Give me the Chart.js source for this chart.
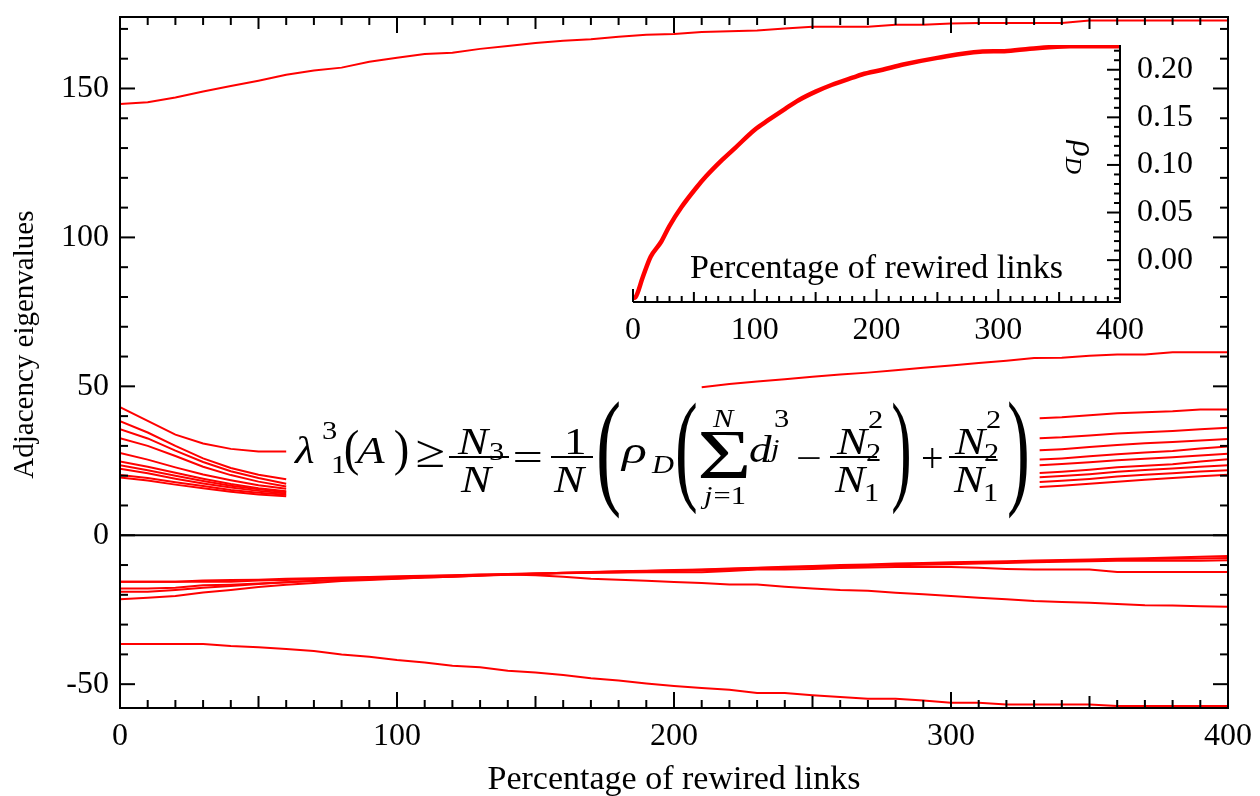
<!DOCTYPE html>
<html>
<head>
<meta charset="utf-8">
<script src="https://cdn.jsdelivr.net/npm/chart.js@4.4.1/dist/chart.umd.min.js"></script>
<style>
  html, body { margin: 0; padding: 0; background: #fff; }
  #wrap { position: relative; width: 1260px; height: 796px; }
  #mainBox { position: absolute; left: 0; top: 0; width: 1260px; height: 796px; }
  #insetBox { position: absolute; left: 600px; top: 20px; width: 640px; height: 340px; }
</style>
</head>
<body>
<div id="wrap">
  <div id="mainBox"><canvas id="mainChart"></canvas></div>
  <div id="insetBox"><canvas id="insetChart"></canvas></div>
</div>
<script>
// ---------- data: eigenvalues vs percentage of rewired links ----------
const pctFull = [0,10,20,30,40,50,60,70,80,90,100,110,120,130,140,150,160,170,180,190,200,
                 210,220,230,240,250,260,270,280,290,300,310,320,330,340,350,360,370,380,390,400];

const lambdaTop = [144.8,145.4,147.0,149.0,150.8,152.6,154.6,156.0,157.0,159.0,
                   160.3,161.6,162.0,163.3,164.3,165.3,166.0,166.5,167.4,168.0,
                   168.3,169.0,169.2,169.5,170.1,170.7,170.7,170.7,171.4,171.4,
                   171.8,172.0,172.0,172.0,172.0,172.8,172.8,172.8,172.8,172.8,172.8];

const lambdaMin = [-36.5,-36.5,-36.5,-36.5,-37.2,-37.6,-38.2,-38.9,-40.0,-40.8,
                   -41.9,-42.7,-43.8,-44.3,-45.5,-46.1,-46.9,-48.0,-48.8,-49.8,
                   -50.6,-51.3,-51.9,-53.0,-53.0,-53.7,-54.3,-54.9,-54.9,-55.5,
                   -56.2,-56.2,-56.8,-56.8,-56.8,-56.8,-57.3,-57.3,-57.3,-57.3,-57.3];

const negA = [-15.6,-15.6,-15.6,-15.2,-15.0,-14.9,-14.6,-14.4,-14.2,-14.0,
              -13.8,-13.6,-13.4,-13.2,-13.2,-13.4,-13.9,-14.6,-14.9,-15.3,
              -15.7,-16.0,-16.5,-16.5,-17.3,-17.9,-18.4,-18.6,-19.3,-19.8,
              -20.4,-21.0,-21.5,-22.1,-22.4,-22.7,-23.1,-23.5,-23.6,-23.8,-24.0];
const negB = [-15.6,-15.6,-15.6,-15.6,-15.6,-15.2,-15.0,-14.7,-14.5,-14.2,
              -14.0,-13.8,-13.5,-13.3,-13.0,-12.8,-12.7,-12.6,-12.5,-12.4,
              -12.4,-12.4,-12.0,-11.5,-11.5,-11.3,-11.0,-10.8,-10.7,-10.7,
              -10.7,-10.9,-11.3,-11.5,-11.5,-11.5,-12.3,-12.3,-12.3,-12.3,-12.3];
const negC = [-17.9,-17.9,-17.6,-16.8,-16.6,-16.2,-15.8,-15.4,-15.0,-14.8,
              -14.5,-14.2,-13.9,-13.6,-13.3,-13.1,-12.8,-12.6,-12.4,-12.2,
              -12.0,-11.8,-11.6,-11.3,-11.0,-10.8,-10.6,-10.3,-10.1,-9.9,
              -9.7,-9.5,-9.3,-9.1,-8.9,-8.7,-8.6,-8.6,-8.6,-8.6,-8.4];
const negD = [-19.0,-19.0,-18.4,-17.6,-17.0,-16.4,-15.8,-15.3,-15.0,-14.7,
              -14.4,-14.0,-13.7,-13.4,-13.1,-12.9,-12.6,-12.4,-12.2,-12.0,
              -11.8,-11.6,-11.3,-11.0,-10.8,-10.5,-10.3,-10.0,-9.8,-9.6,
              -9.4,-9.2,-9.0,-8.8,-8.6,-8.4,-8.2,-8.0,-7.9,-7.8,-7.6];
const negE = [-21.5,-21.0,-20.4,-19.2,-18.4,-17.4,-16.6,-16.0,-15.4,-15.0,
              -14.6,-14.2,-13.9,-13.5,-13.2,-12.9,-12.6,-12.3,-12.1,-11.9,
              -11.7,-11.5,-11.2,-10.9,-10.6,-10.3,-10.0,-9.8,-9.5,-9.3,
              -9.1,-8.9,-8.7,-8.5,-8.3,-8.1,-7.9,-7.7,-7.5,-7.2,-7.0];

// second eigenvalue, visible above the formula
const pctSecond = [210,220,230,240,250,260,270,280,290,300,310,320,330,340,350,360,370,380,390,400];
const lambdaSecond = [49.7,50.8,51.6,52.4,53.2,54.0,54.6,55.4,56.2,57.0,
                      57.8,58.6,59.5,59.6,60.3,60.7,60.7,61.4,61.4,61.4];

// bulk eigenvalues, visible left and right of the formula
const pctLeft = [0,10,20,30,40,50,60];
const left1  = [43.0,38.4,33.8,30.8,29.0,28.1,28.1];
const left2  = [38.3,34.5,30.0,25.8,22.6,20.3,18.8];
const left3  = [35.6,32.5,28.4,24.6,21.5,19.2,17.3];
const left4  = [32.6,30.0,26.6,23.0,20.2,18.0,16.4];
const left5  = [27.6,25.4,22.8,20.4,18.5,16.8,15.6];
const left6  = [24.8,23.0,21.0,19.0,17.2,15.8,14.8];
const left7  = [23.5,21.8,20.0,18.2,16.6,15.4,14.4];
const left8  = [22.3,20.8,19.0,17.4,16.0,14.9,14.0];
const left9  = [20.2,19.2,17.8,16.5,15.2,14.3,13.6];
const left10 = [19.4,18.4,17.0,15.8,14.6,13.7,13.1];

const pctRight = [332,340,350,360,370,380,390,400];
const right1 = [39.3,39.6,40.3,41.0,41.3,41.6,42.2,42.2];
const right2 = [32.6,32.9,33.5,34.2,34.6,35.0,35.6,36.1];
const right3 = [28.5,28.9,29.6,30.3,30.9,31.3,31.8,32.3];
const right4 = [25.4,25.8,26.5,27.2,27.8,28.3,29.1,29.8];
const right5 = [23.5,23.9,24.5,25.2,25.7,26.2,26.8,27.4];
const right6 = [20.9,21.3,22.0,22.8,23.3,23.8,24.8,25.5];
const right7 = [19.5,19.9,20.5,21.3,21.9,22.4,23.0,23.5];
const right8 = [17.9,18.3,18.9,19.7,20.3,20.8,21.4,21.8];
const right9 = [16.2,16.6,17.3,18.0,18.6,19.2,19.8,20.3];

const xTickValues = [0,100,200,300,400];
const yTickValues = [-50,0,50,100,150];

// inset: degree-degree correlation rho_D
const insetPct = [0,2,8,14.5,23,30,40,52,60,73,84,100,111,125,136,150,163,181,188,205,222,250,285,305,326,359,400];
const rhoD = [-0.040,-0.039,-0.018,0.0035,0.019,0.036,0.056,0.076,0.088,0.105,0.118,0.137,0.147,
              0.159,0.168,0.177,0.184,0.192,0.195,0.200,0.2055,0.2125,0.219,0.2195,0.222,0.2247,0.2247];
const insetXTicks = [0,100,200,300,400];
const insetYTicks = [0,0.05,0.10,0.15,0.20];

// ---------- helpers ----------
const SERIF = '"Liberation Serif", "Times New Roman", serif';
const RED = '#ff0000';
const EQ_SX = 1.22;   // horizontal stretch of the formula glyphs

function pairs(xs, ys) { return xs.map((x, i) => ({ x: x, y: ys[i] })); }
function line(xs, ys, w, smooth) {
  return { data: pairs(xs, ys), borderColor: RED, borderWidth: w || 2, pointRadius: 0, fill: false,
           tension: smooth ? 0.4 : 0, cubicInterpolationMode: smooth ? 'monotone' : 'default' };
}
function seg(ctx, x1, y1, x2, y2) { ctx.beginPath(); ctx.moveTo(x1, y1); ctx.lineTo(x2, y2); ctx.stroke(); }
function txt(ctx, s, x, y, size, italic, sx) {
  const k = sx || EQ_SX;
  ctx.save();
  ctx.font = (italic ? 'italic ' : '') + size + 'px ' + SERIF;
  ctx.translate(x, y);
  ctx.scale(k, 1);
  ctx.fillText(s, 0, 0);
  const w = ctx.measureText(s).width * k;
  ctx.restore();
  return w;
}
// draw a glyph stretched into the box (l,t)-(r,b)
function fitGlyph(ctx, ch, size, l, t, r, b, italic) {
  ctx.save();
  ctx.font = (italic ? 'italic ' : '') + size + 'px ' + SERIF;
  const m = ctx.measureText(ch);
  const gw = m.actualBoundingBoxLeft + m.actualBoundingBoxRight;
  const gh = m.actualBoundingBoxAscent + m.actualBoundingBoxDescent;
  ctx.translate(l, t);
  ctx.scale((r - l) / gw, (b - t) / gh);
  ctx.fillText(ch, m.actualBoundingBoxLeft, m.actualBoundingBoxAscent);
  ctx.restore();
}
function fracBar(ctx, x1, x2, y) { ctx.fillRect(x1, y - 1, x2 - x1, 2); }

// lambda_1^3(A) >= N3/N = 1/N ( rho_D ( sum d_j^3 - N2^2/N1 ) + N2^2/N1 )
function drawFormula(ctx) {
  ctx.save();
  ctx.fillStyle = '#000';
  ctx.textBaseline = 'alphabetic';
  ctx.textAlign = 'left';
  txt(ctx, 'λ', 295, 463, 37, true);
  txt(ctx, '3', 322, 439, 25);
  txt(ctx, '1', 331, 473, 25);
  fitGlyph(ctx, '(', 36, 345, 428, 358, 476);
  txt(ctx, 'A', 357, 463, 37, true);
  fitGlyph(ctx, ')', 36, 395, 428, 408, 476);
  fitGlyph(ctx, '≥', 36, 417, 440, 444, 467);
  fracBar(ctx, 449, 509, 457);
  txt(ctx, 'N', 458, 454, 37, true);
  txt(ctx, '3', 489, 460, 25);
  txt(ctx, 'N', 461, 492, 37, true);
  fitGlyph(ctx, '=', 36, 514, 452, 541, 462);
  fracBar(ctx, 551, 593, 457);
  txt(ctx, '1', 564, 454, 37);
  txt(ctx, 'N', 554, 492, 37, true);
  fitGlyph(ctx, '(', 36, 598, 397, 619, 520);
  txt(ctx, 'ρ', 622, 463, 37, true, 1.4);
  txt(ctx, 'D', 652, 473, 25, true);
  fitGlyph(ctx, '(', 36, 677, 400, 696, 515);
  fitGlyph(ctx, 'Σ', 66, 700, 432, 748, 478);
  txt(ctx, 'N', 713, 427, 25, true);
  const wj = txt(ctx, 'j', 704, 504, 25, true);
  txt(ctx, '=1', 704 + wj + 1, 504, 25);
  txt(ctx, 'd', 749, 462, 37, true);
  txt(ctx, '3', 774, 427, 25);
  txt(ctx, 'j', 771, 457, 25, true);
  fitGlyph(ctx, '−', 36, 797, 457, 820, 459);
  fracBar(ctx, 830, 877, 457);
  txt(ctx, 'N', 837, 454, 37, true);
  txt(ctx, '2', 868, 428, 25);
  txt(ctx, '2', 866, 461, 25);
  txt(ctx, 'N', 835, 492, 37, true);
  txt(ctx, '1', 864, 501, 25);
  fitGlyph(ctx, ')', 36, 893, 400, 910, 515);
  fitGlyph(ctx, '+', 36, 922, 447, 942, 468);
  fracBar(ctx, 949, 996, 457);
  txt(ctx, 'N', 955, 454, 37, true);
  txt(ctx, '2', 986, 428, 25);
  txt(ctx, '2', 984, 461, 25);
  txt(ctx, 'N', 954, 492, 37, true);
  txt(ctx, '1', 983, 501, 25);
  fitGlyph(ctx, ')', 36, 1009, 397, 1028, 520);
  ctx.restore();
}

// frame, inward ticks, zero line, y title and the formula of the main panel
const mainDecor = {
  id: 'mainDecor',
  beforeDatasetsDraw(chart) {
    const { ctx, chartArea: a, scales: { y } } = chart;
    const y0 = y.getPixelForValue(0);
    ctx.save();
    ctx.strokeStyle = '#000';
    ctx.lineWidth = 2;
    seg(ctx, a.left, y0, a.right, y0);
    ctx.restore();
  },
  afterDraw(chart) {
    const { ctx, chartArea: a, scales: { x, y } } = chart;
    ctx.save();
    ctx.strokeStyle = '#000';
    ctx.lineWidth = 2;
    ctx.strokeRect(a.left, a.top, a.right - a.left, a.bottom - a.top);
    for (let v = 0; v <= 400; v += 10) {
      const px = x.getPixelForValue(v);
      const len = v % 100 === 0 ? 16 : (v % 50 === 0 ? 12 : 8);
      seg(ctx, px, a.bottom, px, a.bottom - len);
      seg(ctx, px, a.top, px, a.top + len);
    }
    for (let v = -50; v <= 170; v += 10) {
      const py = y.getPixelForValue(v);
      const len = v % 50 === 0 ? 15 : 8;
      seg(ctx, a.left, py, a.left + len, py);
      seg(ctx, a.right, py, a.right - len, py);
    }
    // y axis title
    ctx.fillStyle = '#000';
    ctx.translate(25, y.getPixelForValue(64));
    ctx.rotate(-Math.PI / 2);
    ctx.textAlign = 'center';
    ctx.textBaseline = 'middle';
    ctx.font = '29px ' + SERIF;
    ctx.fillText('Adjacency eigenvalues', 0, 0);
    ctx.restore();
    drawFormula(ctx);
  }
};

// axes, ticks and inner titles of the inset panel
const insetDecor = {
  id: 'insetDecor',
  afterDraw(chart) {
    const { ctx, chartArea: a, scales: { x, y } } = chart;
    ctx.save();
    ctx.strokeStyle = '#000';
    ctx.lineWidth = 2;
    seg(ctx, a.left, a.bottom, a.right + 1, a.bottom);
    seg(ctx, a.right, a.top, a.right, a.bottom + 1);
    for (let v = 0; v <= 400; v += 10) {
      const px = x.getPixelForValue(v);
      const len = v % 100 === 0 ? 13 : (v % 50 === 0 ? 10 : 6);
      seg(ctx, px, a.bottom, px, a.bottom - len);
    }
    for (let k = -4; k <= 22; k++) {
      const py = y.getPixelForValue(k / 100);
      const len = k % 5 === 0 ? 13 : 6;
      seg(ctx, a.right, py, a.right - len, py);
    }
    ctx.fillStyle = '#000';
    ctx.textAlign = 'center';
    ctx.textBaseline = 'alphabetic';
    ctx.font = '34px ' + SERIF;
    ctx.fillText('Percentage of rewired links', (a.left + a.right) / 2, a.bottom - 24);
    // rotated axis title rho_D inside the panel
    ctx.save();
    ctx.translate(a.right - 47, y.getPixelForValue(0.108));
    ctx.rotate(Math.PI / 2);
    ctx.textAlign = 'left';
    ctx.font = 'italic 34px ' + SERIF;
    const wr = ctx.measureText('ρ').width;
    ctx.font = 'italic 24px ' + SERIF;
    const wd = ctx.measureText('D').width;
    const u0 = -(wr + wd) / 2;
    ctx.font = 'italic 34px ' + SERIF;
    ctx.fillText('ρ', u0, 0);
    ctx.font = 'italic 24px ' + SERIF;
    ctx.fillText('D', u0 + wr, 7);
    ctx.restore();
    ctx.restore();
  }
};

const tickFont = { family: SERIF, size: 32 };

new Chart(document.getElementById('mainChart'), {
  type: 'line',
  data: {
    datasets: [
      line(pctFull, lambdaTop),
      line(pctSecond, lambdaSecond),
      line(pctLeft, left1), line(pctLeft, left2), line(pctLeft, left3), line(pctLeft, left4), line(pctLeft, left5),
      line(pctLeft, left6), line(pctLeft, left7), line(pctLeft, left8), line(pctLeft, left9), line(pctLeft, left10),
      line(pctRight, right1), line(pctRight, right2), line(pctRight, right3), line(pctRight, right4), line(pctRight, right5),
      line(pctRight, right6), line(pctRight, right7), line(pctRight, right8), line(pctRight, right9),
      line(pctFull, negA), line(pctFull, negB), line(pctFull, negC), line(pctFull, negD), line(pctFull, negE),
      line(pctFull, lambdaMin)
    ]
  },
  options: {
    responsive: true,
    maintainAspectRatio: false,
    animation: false,
    events: [],
    layout: { padding: { top: 17, right: 32, left: 0, bottom: 0 } },
    plugins: { legend: { display: false }, tooltip: { enabled: false } },
    scales: {
      x: {
        type: 'linear', min: 0, max: 400,
        afterFit(s) { s.height = 88; s.paddingLeft = 0; s.paddingRight = 0; },
        afterBuildTicks(s) { s.ticks = xTickValues.map(v => ({ value: v })); },
        grid: { display: false, drawTicks: false },
        border: { display: false },
        ticks: { font: tickFont, color: '#000', padding: 9, maxRotation: 0, autoSkip: false },
        title: { display: true, text: 'Percentage of rewired links', color: '#000',
                 font: { family: SERIF, size: 34 }, padding: { top: 0, bottom: -4 } }
      },
      y: {
        type: 'linear', min: -58, max: 174,
        afterFit(s) { s.width = 120; s.paddingTop = 0; s.paddingBottom = 0; },
        afterBuildTicks(s) { s.ticks = yTickValues.map(v => ({ value: v })); },
        grid: { display: false, drawTicks: false },
        border: { display: false },
        ticks: { font: tickFont, color: '#000', padding: 11, autoSkip: false }
      }
    }
  },
  plugins: [mainDecor]
});

new Chart(document.getElementById('insetChart'), {
  type: 'line',
  data: { datasets: [line(insetPct, rhoD, 4.5, true)] },
  options: {
    responsive: true,
    maintainAspectRatio: false,
    animation: false,
    events: [],
    layout: { padding: { top: 25, right: 0, left: 33, bottom: 0 } },
    plugins: { legend: { display: false }, tooltip: { enabled: false } },
    scales: {
      x: {
        type: 'linear', min: 0, max: 400,
        afterFit(s) { s.height = 58; s.paddingLeft = 0; s.paddingRight = 0; },
        afterBuildTicks(s) { s.ticks = insetXTicks.map(v => ({ value: v })); },
        grid: { display: false, drawTicks: false },
        border: { display: false },
        ticks: { font: tickFont, color: '#000', padding: 9, maxRotation: 0, autoSkip: false }
      },
      y: {
        type: 'linear', position: 'right', min: -0.044, max: 0.226,
        afterFit(s) { s.width = 120; s.paddingTop = 0; s.paddingBottom = 0; },
        afterBuildTicks(s) { s.ticks = insetYTicks.map(v => ({ value: v })); },
        grid: { display: false, drawTicks: false },
        border: { display: false },
        ticks: { font: tickFont, color: '#000', padding: 17, autoSkip: false,
                 callback: v => Number(v).toFixed(2) }
      }
    }
  },
  plugins: [insetDecor]
});
</script>
</body>
</html>
